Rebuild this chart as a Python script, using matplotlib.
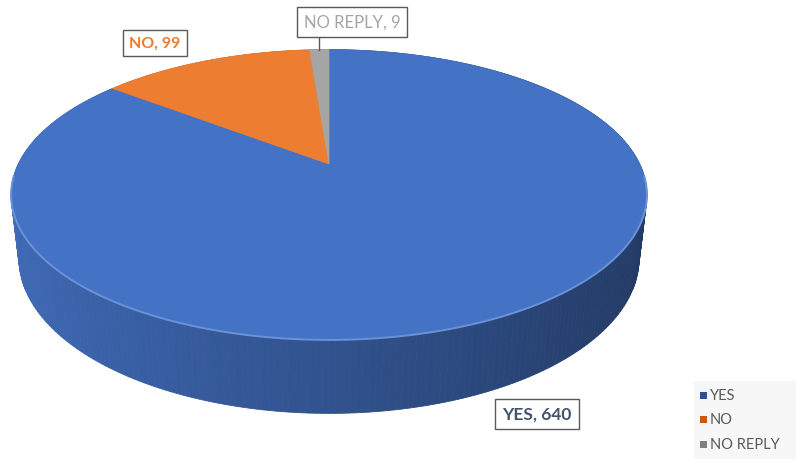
import numpy as np
import matplotlib.pyplot as plt
from matplotlib.patches import Polygon, Rectangle

categories = ["YES", "NO", "NO REPLY"]
values = [640, 99, 9]
colors = ["#4472C4", "#ED7D31", "#A5A5A5"]
label_colors = ["#44546A", "#ED7D31", "#A5A5A5"]
legend_marks = ["#2F528F", "#C55A11", "#7F7F7F"]

# 3d view of the pie (pixel space)
TILT = np.radians(26.5)
DIST = 4.22
FOCAL = 1311
CX, CY = 329, 165
THICK = 0.23

plt.rcParams['font.family'] = ['Lato', 'DejaVu Sans']


def proj(X, Y, Z):
    s, c = np.sin(TILT), np.cos(TILT)
    depth = DIST + Y * c - Z * s
    up = Y * s + Z * c
    return CX + FOCAL * X / depth, CY - FOCAL * up / depth


def rim(theta, z=0.0):
    # theta clockwise from 12 o'clock, seen from above
    return proj(np.sin(theta), np.cos(theta), z)


def shade(hex_color, f):
    rgb = np.array([int(hex_color[i:i + 2], 16) for i in (1, 3, 5)]) / 255
    return tuple(rgb * f)


fig = plt.figure(figsize=(7.96, 4.64), dpi=100)
ax = fig.add_axes([0, 0, 1, 1])
ax.set_xlim(0, 796)
ax.set_ylim(464, 0)
ax.axis('off')

total = sum(values)
edges = np.concatenate([[0], np.cumsum(values)]) / total * 2 * np.pi

# side wall, far segments first
segs = []
for i in range(len(values)):
    th = np.linspace(edges[i], edges[i + 1], max(int(np.degrees(edges[i + 1] - edges[i])), 2) + 1)
    for a, b in zip(th[:-1], th[1:]):
        segs.append((np.cos((a + b) / 2), i, a, b))
segs.sort(key=lambda t: -t[0])
for _, i, a, b in segs:
    xa, ya = rim(a)
    xb, yb = rim(b)
    xc, yc = rim(b, -THICK)
    xd, yd = rim(a, -THICK)
    f = 0.72 - 0.22 * np.sin((a + b) / 2)
    col = shade(colors[i], f)
    ax.add_patch(Polygon([(xa, ya), (xb, yb), (xc, yc), (xd, yd)], closed=True,
                         facecolor=col, edgecolor=col, lw=0.6))

# top face
apex = proj(0, 0, 0)
for i in range(len(values)):
    th = np.linspace(edges[i], edges[i + 1], 200)
    xs, ys = rim(th)
    pts = [apex] + list(zip(xs, ys))
    ax.add_patch(Polygon(pts, closed=True, facecolor=colors[i], edgecolor=colors[i], lw=0.5))

# light edge along the front rim
th = np.linspace(np.radians(95), np.radians(265), 200)
xs, ys = rim(th)
ax.plot(xs, ys, color="#6A92D8", lw=1.4, solid_capstyle='round')

# data labels
box = dict(boxstyle="square,pad=0.4", facecolor="white", edgecolor="#595959", lw=1)
ax.text(155, 44, f"{categories[1]}, {values[1]}", color=label_colors[1], fontsize=11.5,
        fontweight='bold', ha='center', va='center', bbox=box)
mid = (edges[2] + edges[3]) / 2
mx, my = rim(mid)
ax.plot([mx, mx], [39, my], color="#595959", lw=1)
ax.text(352, 23, f"{categories[2]}, {values[2]}", color=label_colors[2], fontsize=12,
        ha='center', va='center', bbox=box)
ax.text(537, 415, f"{categories[0]}, {values[0]}", color=label_colors[0], fontsize=12.5,
        fontweight='bold', ha='center', va='center', bbox=box)

# legend
ax.add_patch(Rectangle((694, 382), 102, 78, facecolor="#F7F7F7", edgecolor="none"))
for k, (cat, mc) in enumerate(zip(categories, legend_marks)):
    y = 396 + 24.5 * k
    ax.add_patch(Rectangle((700, y - 3.5), 7, 7, facecolor=mc, edgecolor="none"))
    ax.text(710, y, cat, color="#595959", fontsize=10.5, ha='left', va='center')

fig.savefig("out.png", dpi=100)
